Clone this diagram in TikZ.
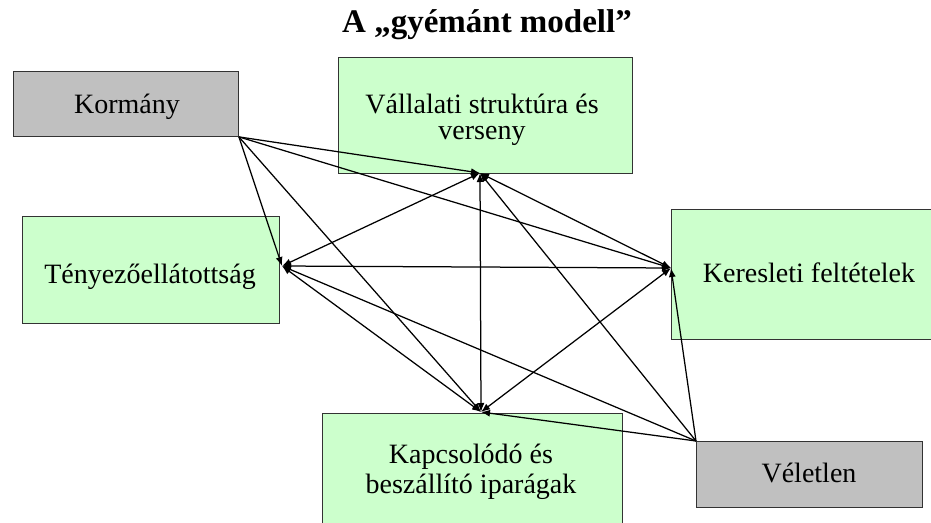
\documentclass[tikz,border=0pt]{standalone}
\usepackage{fontspec}
\setmainfont{Liberation Serif}
\usetikzlibrary{arrows.meta}
\definecolor{boxgreen}{HTML}{CCFFCC}
\definecolor{boxgray}{HTML}{C0C0C0}
\definecolor{edge}{HTML}{333333}
\begin{document}
\begin{tikzpicture}[x=1pt,y=-1pt,
  box/.style={draw=edge, line width=0.9pt, inner sep=0pt, anchor=north west},
  greenbox/.style={box, fill=boxgreen},
  graybox/.style={box, fill=boxgray},
  lbl/.style={font=\fontsize{28}{29}\selectfont, inner sep=0pt, anchor=base, align=center},
  con/.style={line width=1.25pt, draw=black},
  arr/.style={con, -{Latex[length=9pt,width=7pt]}},
  darr/.style={con, {Latex[length=9pt,width=7pt]}-{Latex[length=9pt,width=7pt]}}
]
\clip (0,0) rectangle (931,522);
\fill[white] (0,0) rectangle (931,522);

% title
\node[font=\fontsize{33}{35}\selectfont\bfseries, inner sep=0pt, anchor=base] (title) at (487,32) {A „gyémánt modell”};

% boxes
\node[graybox, minimum width=225pt, minimum height=65pt] (kor) at (13,71) {};
\node[greenbox, minimum width=294pt, minimum height=116pt] (val) at (338,57) {};
\node[greenbox, minimum width=257pt, minimum height=107pt] (ten) at (22,216) {};
\node[greenbox, minimum width=280pt, minimum height=130pt] (ker) at (671,209) {};
\node[greenbox, minimum width=300pt, minimum height=130pt] (kap) at (322,413) {};
\node[graybox, minimum width=226pt, minimum height=66pt] (vel) at (696,441) {};

% labels (base anchor = baseline of the last line)
\node[lbl] (korT) at (127,113) {Kormány};
\node[lbl, font=\fontsize{28}{26}\selectfont] (valT) at (482,139) {Vállalati struktúra és\\verseny};
\node[lbl] (tenT) at (150,283) {Tényezőellátottság};
\node[lbl] (kerT) at (809,282) {Keresleti feltételek};
\node[lbl, font=\fontsize{28}{30}\selectfont] (kapT) at (471,493) {Kapcsolódó és\\beszállító iparágak};
\node[lbl] (velT) at (809,482) {Véletlen};

% connection points
\coordinate (pK) at (kor.south east);
\coordinate (pV) at (480,173);
\coordinate (pT) at (282,266);
\coordinate (pKe) at (671,268);
\coordinate (pKa) at (481,412);
\coordinate (pVe) at (vel.north west);

% from Kormány
\draw[arr] (pK) -- (pV);
\draw[arr] (pK) -- (pT);
\draw[arr] (pK) -- (pKe);
\draw[arr] (pK) -- (pKa);
% from Véletlen
\draw[arr] (pVe) -- (pV);
\draw[arr] (pVe) -- (pKe);
\draw[arr] (pVe) -- (pKa);
\draw[arr] (pVe) -- (pT);
% diamond
\draw[darr] (pV) -- (pT);
\draw[darr] (pV) -- (pKa);
\draw[darr] (pV) -- (pKe);
\draw[darr] (pT) -- (pKe);
\draw[darr] (pT) -- (pKa);
\draw[darr] (pKe) -- (pKa);
\end{tikzpicture}
\end{document}
